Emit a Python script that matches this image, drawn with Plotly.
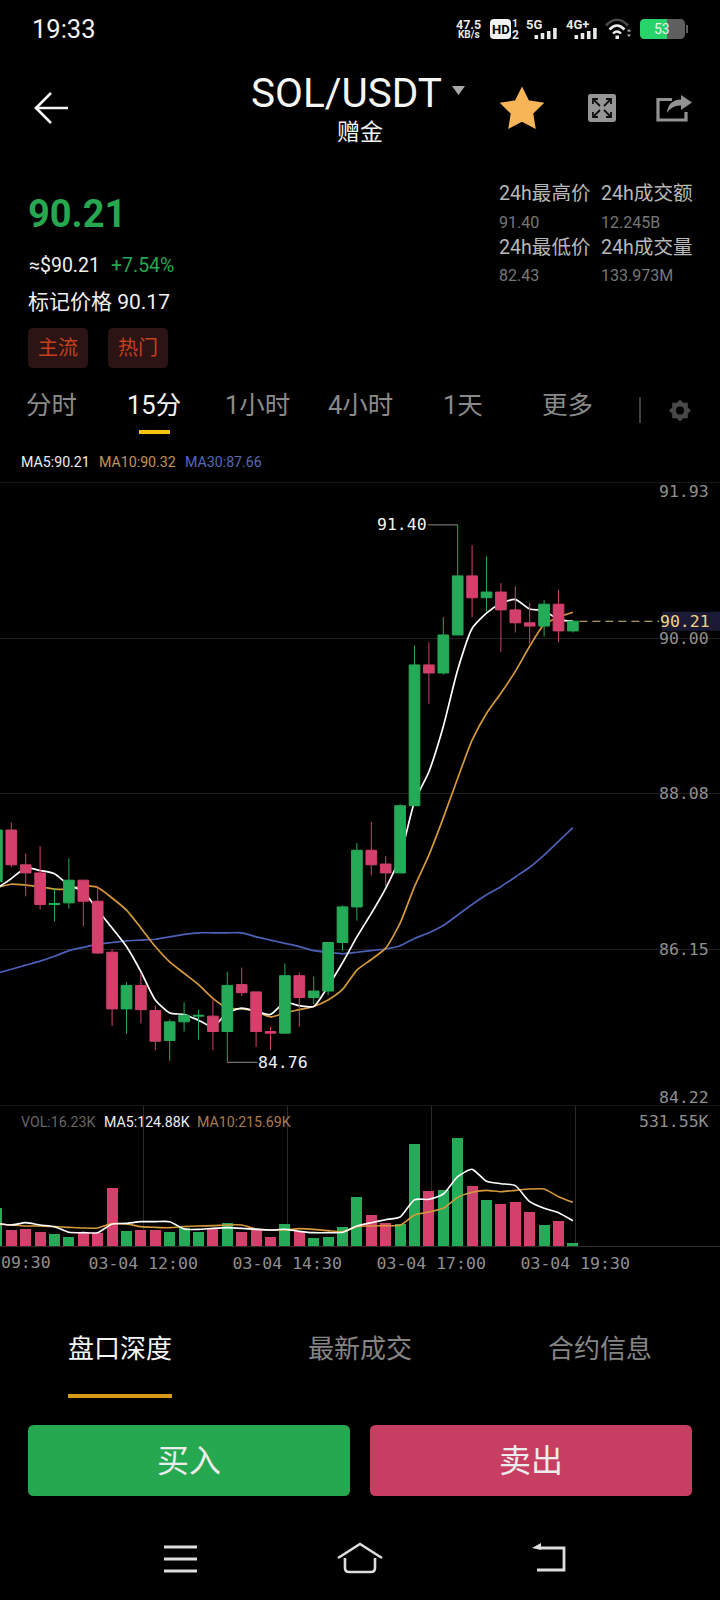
import math
import plotly.graph_objects as go

# ---------- data ----------
candle_index = list(range(-1, 40))
opens = [86.99, 87.63, 87.20, 87.10, 86.71, 86.73, 87.01, 86.75, 86.12, 85.42, 85.71, 85.40, 85.03, 85.26,
         85.33, 85.33, 85.14, 85.72, 85.63, 85.14, 85.12, 85.83, 85.56, 85.64, 86.24, 86.68, 87.38, 87.21,
         87.10, 87.93, 89.67, 89.57, 90.04, 90.77, 90.50, 90.57, 90.35, 90.19, 90.15, 90.42, 90.09]
closes = [87.63, 87.20, 87.10, 86.71, 86.72, 87.01, 86.75, 86.11, 85.42, 85.71, 85.41, 85.02, 85.26, 85.34,
          85.34, 85.14, 85.71, 85.62, 85.14, 85.12, 85.83, 85.56, 85.64, 86.24, 86.68, 87.38, 87.20, 87.10,
          87.93, 89.67, 89.57, 90.04, 90.77, 90.50, 90.57, 90.35, 90.19, 90.15, 90.42, 90.09, 90.21]
highs = [87.70, 87.72, 87.34, 87.43, 86.90, 87.28, 87.01, 86.94, 86.16, 85.75, 85.86, 85.46, 85.29, 85.50,
         85.41, 85.55, 85.88, 85.93, 85.63, 85.20, 85.98, 85.87, 85.82, 86.24, 86.70, 87.47, 87.73, 87.31,
         87.95, 89.91, 89.95, 90.26, 91.40, 91.15, 91.01, 90.68, 90.64, 90.44, 90.47, 90.60, 90.21]
lows = [86.95, 87.17, 86.81, 86.65, 86.50, 86.66, 86.44, 86.10, 85.21, 85.11, 85.24, 84.91, 84.78, 85.14,
        85.04, 84.91, 84.76, 85.58, 84.95, 84.91, 85.12, 85.20, 85.48, 85.59, 86.14, 86.51, 87.07, 86.94,
        87.10, 87.93, 89.19, 89.55, 90.04, 90.26, 90.33, 89.83, 90.07, 89.93, 90.02, 89.95, 90.07]
ma5 = [86.91, 87.03, 87.16, 87.13, 87.09, 86.95, 86.87, 86.64, 86.42, 86.19, 85.88, 85.53, 85.37, 85.35,
       85.28, 85.20, 85.37, 85.43, 85.39, 85.35, 85.50, 85.46, 85.45, 85.70, 85.99, 86.31, 86.60, 86.91,
       87.30, 87.98, 88.35, 88.91, 89.61, 90.12, 90.31, 90.43, 90.48, 90.36, 90.34, 90.23, 90.21]
ma10 = [86.92, 86.96, 86.95, 86.93, 86.90, 86.90, 86.94, 86.92, 86.79, 86.64, 86.42, 86.19, 86.00, 85.86,
        85.72, 85.55, 85.43, 85.42, 85.39, 85.32, 85.37, 85.41, 85.45, 85.53, 85.66, 85.90, 86.03, 86.17,
        86.48, 86.93, 87.32, 87.78, 88.27, 88.74, 89.07, 89.32, 89.59, 89.90, 90.17, 90.26, 90.32]
ma30 = [85.86, 85.91, 85.96, 86.01, 86.07, 86.14, 86.18, 86.22, 86.24, 86.26, 86.27, 86.28, 86.31, 86.34,
        86.36, 86.36, 86.36, 86.36, 86.31, 86.27, 86.23, 86.19, 86.14, 86.12, 86.10, 86.12, 86.14, 86.16,
        86.20, 86.29, 86.36, 86.45, 86.58, 86.71, 86.83, 86.93, 87.05, 87.17, 87.32, 87.49, 87.66]
volume = [187.6, 80.6, 85.6, 69.1, 59.2, 46.1, 62.5, 62.5, 286.4, 74.1, 77.3, 77.3, 70.8, 90.5, 67.5, 87.2,
          111.9, 69.1, 79.0, 44.4, 107.0, 75.7, 39.5, 44.4, 95.5, 241.9, 153.0, 111.9, 107.0, 503.6, 273.2,
          276.5, 531.55, 294.6, 227.1, 205.7, 217.2, 166.2, 105.3, 123.4, 16.23]
vol_ma5 = [111.9, 103.7, 115.2, 103.7, 95.5, 67.5, 65.8, 65.8, 108.6, 111.9, 120.1, 120.1, 120.1, 83.9, 82.3,
           87.2, 90.5, 87.2, 82.3, 79.0, 82.3, 72.4, 65.8, 65.8, 67.5, 98.7, 115.2, 130.0, 143.2, 228.8, 230.4,
           256.7, 342.3, 378.5, 319.3, 307.7, 297.9, 218.9, 186.0, 164.6, 124.88]
vol_ma10 = [108.6, 103.7, 98.7, 98.7, 95.5, 92.2, 88.9, 88.9, 110.3, 108.6, 95.5, 92.2, 90.5, 95.5, 98.7, 100.4,
            103.7, 103.7, 83.9, 79.0, 79.0, 85.6, 82.3, 75.7, 70.8, 95.5, 98.7, 100.4, 102.0, 153.0, 167.9,
            186.0, 240.3, 265.0, 274.8, 268.2, 274.8, 281.4, 281.4, 243.6, 215.69]
price_ticks = [91.93, 90.00, 88.08, 86.15, 84.22]
time_labels = ["03-04 12:00", "03-04 14:30", "03-04 17:00", "03-04 19:30"]
time_pos = [9.16, 19.16, 29.16, 39.16]
first_time_label = "09:30"
last_price = 90.21
high_price = 91.40
high_index = 31
low_price = 84.76
low_index = 15
vol_axis_label = "531.55K"

# ---------- page geometry ----------
W, H = 720, 1600
UI = "Roboto, 'Noto Sans CJK SC', sans-serif"
MONO = "'DejaVu Sans Mono', monospace"
MONO_SIZE = 16.5
GREEN, RED = "#25ab58", "#d3406c"
C_MA5, C_MA10, C_MA30 = "#ffffff", "#d6993a", "#4c60b8"
GRID = "#202020"
TICK = "#8f8f8f"


def X(p):
    return p / W


def Y(p):
    return 1 - p / H


ann, shp = [], []


def text(s, x, y, size, color, anchor="left", family=UI, **kw):
    ann.append(dict(text=s, x=X(x), y=Y(y), xref="paper", yref="paper", xanchor=anchor, yanchor="middle",
                    showarrow=False, borderpad=0, font=dict(size=size, color=color, family=family), **kw))


def line(x0, y0, x1, y1, color, w=1.0, dash=None):
    shp.append(dict(type="line", xref="paper", yref="paper", x0=X(x0), y0=Y(y0), x1=X(x1), y1=Y(y1),
                    line=dict(color=color, width=w, dash=dash), layer="above"))


def rect(x0, y0, x1, y1, fill):
    shp.append(dict(type="rect", xref="paper", yref="paper", x0=X(x0), y0=Y(y0), x1=X(x1), y1=Y(y1),
                    fillcolor=fill, line=dict(width=0), layer="above"))


def path(cmds, color=None, w=2.0, fill=None):
    out = []
    for c in cmds:
        if isinstance(c, str):
            out.append(c)
        else:
            out.append(f"{X(c[0]):.5f},{Y(c[1]):.5f}")
    shp.append(dict(type="path", xref="paper", yref="paper", path=" ".join(out), fillcolor=fill,
                    line=dict(color=color or "rgba(0,0,0,0)", width=w if color else 0), layer="above"))


def rrect(x0, y0, x1, y1, r, fill):
    path(["M", (x0 + r, y0), "L", (x1 - r, y0), "Q", (x1, y0), (x1, y0 + r), "L", (x1, y1 - r), "Q", (x1, y1),
          (x1 - r, y1), "L", (x0 + r, y1), "Q", (x0, y1), (x0, y1 - r), "L", (x0, y0 + r), "Q", (x0, y0),
          (x0 + r, y0), "Z"], fill=fill)


# ---------- status bar ----------
text("19:33", 31, 29, 25.5, "#f2f2f2")
text("<b>47.5</b>", 468.5, 24.5, 12.5, "#e8e8e8", "center")
text("<b>KB/s</b>", 468.5, 35, 10, "#e8e8e8", "center")
rrect(490, 19, 511, 39, 4, "#f2f2f2")
text("<b>HD</b>", 500.5, 29.5, 13, "#000000", "center")
text("<b>1</b>", 515, 23.5, 10.5, "#e8e8e8", "center")
text("<b>2</b>", 515, 35, 12, "#e8e8e8", "center")
text("<b>5G</b>", 533.5, 24, 13, "#e8e8e8", "center")
text("<b>4G+</b>", 577.5, 24, 13, "#e8e8e8", "center")
for base in (534.5, 574.5):
    for k, top in enumerate((35, 33, 31, 28)):
        rect(base + k * 6.2, top, base + k * 6.2 + 3.6, 39, "#e8e8e8")
path(["M", (606, 25.5), "Q", (617, 14), (628, 25.5)], "#4a4a4a", 2.6)
path(["M", (609.5, 29.5), "Q", (617, 21.5), (624.5, 29.5)], "#ececec", 2.6)
path(["M", (613, 33.5), "Q", (617, 29.5), (621, 33.5)], "#ececec", 2.4)
rect(615.5, 35.5, 619, 39, "#ececec")
path(["M", (627, 31.5), "L", (629, 29), "L", (631, 31.5), "Z"], fill="#bbbbbb")
path(["M", (627, 34.5), "L", (629, 37), "L", (631, 34.5), "Z"], fill="#bbbbbb")
rrect(640, 19, 685, 39, 5, "#5f5f5f")
rrect(640, 19, 667, 39, 5, "#27d46a")
rect(661, 19, 667, 39, "#27d46a")
rect(686, 25, 688, 33, "#5f5f5f")
text("53", 661.5, 29, 14, "#f0f0f0", "center")

# ---------- header ----------
path(["M", (35, 108), "L", (68, 108)], "#f4f4f4", 2.6)
path(["M", (51, 93), "L", (36, 108), "L", (51, 123)], "#f4f4f4", 2.6)
text("SOL/USDT", 346.5, 93, 40.5, "#f6f6f6", "center")
path(["M", (452, 86), "L", (465, 86), "L", (458.5, 95), "Z"], fill="#a8a8a8")
text("赠金", 360, 132, 23, "#f4f4f4", "center")
star = []
for k in range(10):
    r = 21.0 if k % 2 == 0 else 10.6
    a = -math.pi / 2 + k * math.pi / 5
    star += ["M" if k == 0 else "L", (522 + r * math.cos(a), 110 + r * math.sin(a))]
path(star + ["Z"], "#f8b558", 2.2, fill="#f8b558")
rrect(588, 94, 616, 122, 2.5, "#969696")
for a, b, c, d in ((593, 99, 600, 106), (611, 99, 604, 106), (593, 117, 600, 110), (611, 117, 604, 110)):
    path(["M", (a, b), "L", (c, d)], "#0e0e0e", 1.8)
    path(["M", (a, b + (5 if d > b else -5)), "L", (a, b), "L", (a + (5 if c > a else -5), b)], "#0e0e0e", 1.8)
path(["M", (672, 99.5), "L", (658, 99.5), "L", (658, 120), "L", (686, 120), "L", (686, 112)], "#929292", 3.2)
path(["M", (681, 95), "L", (692, 102.5), "L", (681, 110), "L", (681, 105.5), "Q", (672, 105), (667, 113), "Q", (668, 100),
      (681, 99.5), "Z"], fill="#929292")

# ---------- ticker block ----------
text("<b>90.21</b>", 27, 214, 38, "#27a750")
text("≈$90.21", 27.5, 265, 19.5, "#f0f0f0")
text("+7.54%", 109.5, 265, 19.5, "#27a750")
text("标记价格 90.17", 27, 302, 21, "#f0f0f0")
rrect(28, 328, 88, 368, 5, "#2c1314")
rrect(108, 328, 168, 368, 5, "#2c1314")
text("主流", 58, 348, 20, "#c5401d", "center")
text("热门", 138, 348, 20, "#c5401d", "center")
text("24h最高价", 497.5, 194, 19.6, "#b8b8b8")
text("24h成交额", 599.5, 194, 19.6, "#b8b8b8")
text("91.40", 497.5, 222, 16, "#777777")
text("12.245B", 599.5, 222, 16, "#777777")
text("24h最低价", 497.5, 247, 19.6, "#b8b8b8")
text("24h成交量", 599.5, 247, 19.6, "#b8b8b8")
text("82.43", 497.5, 275, 16, "#777777")
text("133.973M", 599.5, 275, 16, "#777777")

# ---------- period tabs ----------
for label, cx, col in (("分时", 51, "#8a8a8a"), ("15分", 153.5, "#f4f4f4"), ("1小时", 257, "#8a8a8a"),
                       ("4小时", 360.5, "#8a8a8a"), ("1天", 463, "#8a8a8a"), ("更多", 567, "#8a8a8a")):
    text(label, cx, 405, 25.5, col, "center")
rect(139, 430, 170, 434, "#f6c512")
line(640, 397, 640, 423, "#6a6a6a", 1.2)
gear_pts = []
for k in range(16):
    r = 11 if k % 2 == 0 else 8.4
    a = k * math.pi / 8
    gear_pts += ["M" if k == 0 else "L", (680 + r * math.cos(a), 410.5 + r * math.sin(a))]
path(gear_pts + ["Z"], fill="#484848")
shp.append(dict(type="circle", xref="paper", yref="paper", x0=X(676), x1=X(684), y0=Y(414.5), y1=Y(406.5),
                fillcolor="#000000", line=dict(width=0), layer="above"))
text("MA5:90.21", 19.5, 461.5, 14.2, "#eeeeee")
text("MA10:90.32", 98, 461.5, 14.2, "#c79157")
text("MA30:87.66", 184, 461.5, 14.2, "#5468b8")

# ---------- axis labels of the chart ----------
for p, dy in zip(price_ticks, (9, 0, 0, 0, -9)):
    ann.append(dict(text=f"{p:.2f}", x=1, y=p, xref="paper", yref="y", xanchor="right", yanchor="middle",
                    xshift=-10, yshift=-dy, showarrow=False, borderpad=0,
                    font=dict(size=MONO_SIZE, color=TICK, family=MONO)))
for p in (price_ticks[0], price_ticks[-1]):
    shp.append(dict(type="line", xref="paper", yref="y", x0=0, x1=1, y0=p, y1=p,
                    line=dict(color="#2a2a2a", width=1), layer="below"))
shp.append(dict(type="rect", xref="paper", yref="y", x0=X(662), x1=1, y0=last_price - 0.117, y1=last_price + 0.117,
                fillcolor="#1b1b36", line=dict(width=0), layer="below"))
ann.append(dict(text=f"{last_price:.2f}", x=1, y=last_price, xref="paper", yref="y", xanchor="right",
                yanchor="middle", xshift=-9, showarrow=False, borderpad=0,
                font=dict(size=MONO_SIZE, color="#efd184", family=MONO)))
shp.append(dict(type="line", xref="x", yref="y", x0=candle_index[-1] + 0.45, x1=45, y0=last_price, y1=last_price,
                line=dict(color="#d9c285", width=1.1, dash="8px,5px"), layer="above"))
shp.append(dict(type="line", xref="x", yref="y", x0=high_index, x1=high_index - 2.08, y0=high_price, y1=high_price,
                line=dict(color="#8a8a8a", width=1), layer="above"))
ann.append(dict(text=f"{high_price:.2f}", x=high_index - 2.08, y=high_price, xref="x", yref="y", xanchor="right",
                yanchor="middle", showarrow=False, borderpad=0, font=dict(size=MONO_SIZE, color="#f0f0f0", family=MONO)))
shp.append(dict(type="line", xref="x", yref="y", x0=low_index, x1=low_index + 2.08, y0=low_price, y1=low_price,
                line=dict(color="#8a8a8a", width=1), layer="above"))
ann.append(dict(text=f"{low_price:.2f}", x=low_index + 2.08, y=low_price, xref="x", yref="y", xanchor="left",
                yanchor="middle", showarrow=False, borderpad=0, font=dict(size=MONO_SIZE, color="#f0f0f0", family=MONO)))
text(f"VOL:{volume[-1]:.2f}K", 19.5, 1121.5, 14.2, "#666666")
text(f"MA5:{vol_ma5[-1]:.2f}K", 102.5, 1121.5, 14.2, "#eeeeee")
text(f"MA10:{vol_ma10[-1]:.2f}K", 196.5, 1121.5, 14.2, "#a87c50")
text(vol_axis_label, 710, 1121, MONO_SIZE, TICK, "right", family=MONO)
text(first_time_label, 0, 1262, MONO_SIZE, TICK, family=MONO)

# ---------- bottom ----------
text("盘口深度", 119.5, 1349, 26, "#f4f4f4", "center")
text("最新成交", 360, 1349, 26, "#858585", "center")
text("合约信息", 600, 1349, 26, "#858585", "center")
rect(68, 1394, 172, 1398, "#d89a1a")
rrect(28, 1425, 350, 1496, 6, "#26a850")
rrect(370, 1425, 692, 1496, 6, "#c83e62")
text("买入", 189, 1461, 32, "#ececec", "center")
text("卖出", 530.5, 1461, 32, "#ececec", "center")
for yy in (1547, 1559, 1571):
    line(164, yy, 197, yy, "#dddddd", 3)
path(["M", (338, 1558), "L", (360, 1544), "L", (382, 1558)], "#dddddd", 2.6)
path(["M", (345, 1558), "L", (345, 1568), "Q", (345, 1572), (349, 1572), "L", (371, 1572), "Q", (375, 1572),
      (375, 1568), "L", (375, 1558)], "#dddddd", 2.6)
path(["M", (540, 1548), "L", (564, 1548), "L", (564, 1570), "L", (537, 1570)], "#dddddd", 2.8)
path(["M", (532, 1548), "L", (541, 1543), "L", (541, 1550), "Z"], fill="#dddddd")

# ---------- traces ----------
fig = go.Figure()
for series, col, name in ((ma30, C_MA30, "MA30"), (ma10, C_MA10, "MA10"), (ma5, C_MA5, "MA5")):
    fig.add_trace(go.Scatter(x=candle_index, y=series, mode="lines", name=name, xaxis="x", yaxis="y",
                             line=dict(color=col, width=1.7, shape="spline", smoothing=0.6)))
fig.add_trace(go.Candlestick(x=candle_index, open=opens, high=highs, low=lows, close=closes, xaxis="x", yaxis="y3",
                             increasing=dict(line=dict(color=GREEN, width=1), fillcolor=GREEN),
                             decreasing=dict(line=dict(color=RED, width=1), fillcolor=RED), whiskerwidth=0))
bar_colors = [GREEN if c >= o else RED for o, c in zip(opens, closes)]
fig.add_trace(go.Bar(x=candle_index, y=volume, marker=dict(color=bar_colors, line=dict(width=0)), width=0.76,
                     xaxis="x2", yaxis="y2", name="VOL"))
for series, col, name in ((vol_ma10, C_MA10, "VOL MA10"), (vol_ma5, C_MA5, "VOL MA5")):
    fig.add_trace(go.Scatter(x=candle_index, y=series, mode="lines", name=name, xaxis="x2", yaxis="y2",
                             line=dict(color=col, width=1.6, shape="spline", smoothing=0.6)))

x_range = [-0.785, 49.215]
main_dom = [Y(1106), Y(482)]
vol_dom = [Y(1246), Y(1106)]
price_axis = dict(domain=main_dom, range=[price_ticks[-1], price_ticks[0]], tickmode="array", tickvals=price_ticks,
                  showticklabels=False, showgrid=True, gridcolor=GRID, gridwidth=1, zeroline=False, ticks="")
fig.update_layout(
    width=W, height=H, margin=dict(l=0, r=0, t=0, b=0, pad=0), showlegend=False, hovermode=False,
    paper_bgcolor="#000000", plot_bgcolor="#000000", boxgap=0.26, boxgroupgap=0, bargap=0,
    xaxis=dict(domain=[0, 1], range=x_range, visible=False, anchor="y", rangeslider=dict(visible=False)),
    xaxis2=dict(domain=[0, 1], range=x_range, anchor="y2", tickmode="array", tickvals=time_pos, ticktext=time_labels,
                ticklabeloverflow="allow", ticklabelstandoff=2, showgrid=True, gridcolor="#2a2a2e", gridwidth=1,
                zeroline=False, ticks="", showline=True, linecolor="#2e2e2e", linewidth=1, tickangle=0,
                tickfont=dict(size=MONO_SIZE, color=TICK, family=MONO), rangeslider=dict(visible=False)),
    yaxis=price_axis,
    yaxis2=dict(domain=vol_dom, range=[0, 691.2], anchor="x2", showticklabels=False, showgrid=False, zeroline=False,
                ticks=""),
    yaxis3=dict(overlaying="y", range=[price_ticks[-1], price_ticks[0]], anchor="x", showticklabels=False,
                showgrid=False, zeroline=False, ticks=""),
    annotations=ann, shapes=shp,
)
fig.write_html("out.html", config={"displayModeBar": False},
               post_script="document.body.style.margin='0';document.body.style.background='#000';document.body.style.overflow='hidden';")
